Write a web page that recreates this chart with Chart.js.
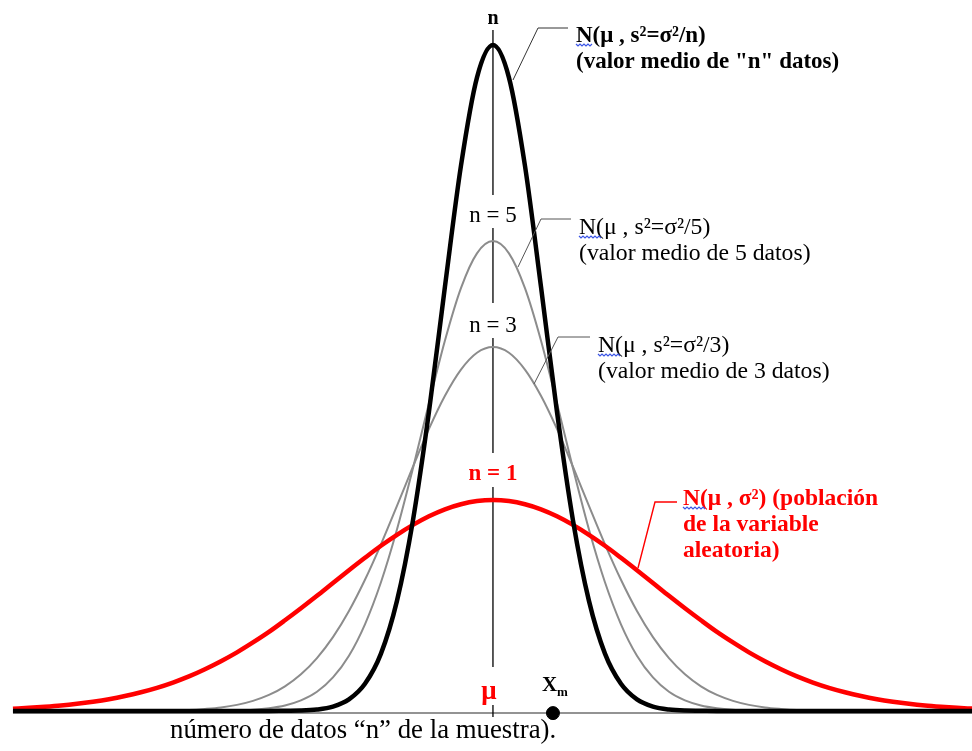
<!DOCTYPE html>
<html>
<head>
<meta charset="utf-8">
<script src="https://cdn.jsdelivr.net/npm/chart.js@4.4.1/dist/chart.umd.min.js"></script>
<style>
  body { margin: 0; background: #fff; }
  canvas { display: block; }
</style>
</head>
<body>
<canvas id="normalChart" width="972" height="751"></canvas>
<script>
// x in units of the population sigma, y relative to the n = 1 peak
const xs = [-3.0,-2.9,-2.8,-2.7,-2.6,-2.5,-2.4,-2.3,-2.2,-2.1,-2.0,-1.9,-1.8,-1.7,-1.6,-1.5,-1.4,-1.3,-1.2,-1.1,
  -1.0,-0.9,-0.8,-0.7,-0.6,-0.5,-0.4,-0.3,-0.2,-0.1,0,0.1,0.2,0.3,0.4,0.5,0.6,0.7,0.8,0.9,
  1.0,1.1,1.2,1.3,1.4,1.5,1.6,1.7,1.8,1.9,2.0,2.1,2.2,2.3,2.4,2.5,2.6,2.7,2.8,2.9,3.0];

const popValues = [0.011,0.015,0.020,0.026,0.034,0.044,0.056,0.071,0.089,0.110,0.135,0.164,0.198,0.236,0.278,
  0.325,0.375,0.430,0.487,0.546,0.607,0.667,0.726,0.783,0.835,0.882,0.923,0.956,0.980,0.995,1.000,
  0.995,0.980,0.956,0.923,0.882,0.835,0.783,0.726,0.667,0.607,0.546,0.487,0.430,0.375,0.325,
  0.278,0.236,0.198,0.164,0.135,0.110,0.089,0.071,0.056,0.044,0.034,0.026,0.020,0.015,0.011];

const n3Values = [0,0,0,0,0,0,0,0,0.001,0.002,0.003,0.005,0.010,0.017,0.029,0.048,0.076,0.117,0.174,0.251,
  0.350,0.474,0.622,0.790,0.972,1.158,1.337,1.494,1.618,1.698,1.725,
  1.698,1.618,1.494,1.337,1.158,0.972,0.790,0.622,0.474,0.350,0.251,0.174,0.117,0.076,0.048,
  0.029,0.017,0.010,0.005,0.003,0.002,0.001,0,0,0,0,0,0,0,0];

const n5Values = [0,0,0,0,0,0,0,0,0,0,0,0,0,0.001,0.003,0.006,0.013,0.026,0.050,0.091,
  0.159,0.262,0.411,0.610,0.860,1.150,1.459,1.756,2.004,2.169,2.227,
  2.169,2.004,1.756,1.459,1.150,0.860,0.610,0.411,0.262,0.159,0.091,0.050,0.026,0.013,0.006,
  0.003,0.001,0,0,0,0,0,0,0,0,0,0,0,0,0];

const nValues = [0,0,0,0,0,0,0,0,0,0,0,0,0,0,0,0,0,0.001,0.002,0.007,
  0.021,0.055,0.129,0.272,0.522,0.904,1.418,2.012,2.584,3.002,3.156,
  3.002,2.584,2.012,1.418,0.904,0.522,0.272,0.129,0.055,0.021,0.007,0.002,0.001,0,0,
  0,0,0,0,0,0,0,0,0,0,0,0,0,0,0];

const xmX = [0.375];
const xmY = [-0.01];

function toPoints(values) {
  return xs.map((x, i) => ({ x: x, y: values[i] }));
}

const serif = '"Liberation Serif", "Times New Roman", serif';

function squiggle(ctx, x0, x1, y) {
  ctx.save();
  ctx.strokeStyle = '#3b55e6';
  ctx.lineWidth = 1.2;
  ctx.beginPath();
  let up = true;
  ctx.moveTo(x0, y);
  for (let x = x0 + 2; x <= x1; x += 2) {
    ctx.lineTo(x, up ? y + 2 : y);
    up = !up;
  }
  ctx.stroke();
  ctx.restore();
}

function leader(ctx, pts, color, width) {
  ctx.save();
  ctx.strokeStyle = color;
  ctx.lineWidth = width;
  ctx.beginPath();
  ctx.moveTo(pts[0][0], pts[0][1]);
  for (let i = 1; i < pts.length; i++) ctx.lineTo(pts[i][0], pts[i][1]);
  ctx.stroke();
  ctx.restore();
}

function text(ctx, str, x, y, font, color, align) {
  ctx.font = font;
  ctx.fillStyle = color;
  ctx.textAlign = align || 'left';
  ctx.textBaseline = 'alphabetic';
  ctx.fillText(str, x, y);
}

const decorations = {
  id: 'decorations',
  beforeDatasetsDraw(chart) {
    const ctx = chart.ctx;
    const xScale = chart.scales.x;
    const yScale = chart.scales.y;
    const y0 = yScale.getPixelForValue(0) + 2;
    const xc = xScale.getPixelForValue(0);

    // horizontal axis
    ctx.save();
    ctx.strokeStyle = '#6f6f6f';
    ctx.lineWidth = 1.5;
    ctx.beginPath();
    ctx.moveTo(xScale.getPixelForValue(xs[0]), y0);
    ctx.lineTo(chart.width, y0);
    ctx.stroke();

    // vertical line at mu, broken where the labels sit
    ctx.strokeStyle = '#000';
    ctx.lineWidth = 1.3;
    [[30, 195], [228, 303], [338, 453], [487, 667], [705, 717]].forEach(s => {
      ctx.beginPath();
      ctx.moveTo(xc, s[0]);
      ctx.lineTo(xc, s[1]);
      ctx.stroke();
    });
    ctx.restore();
  },
  afterDraw(chart) {
    const ctx = chart.ctx;
    const xc = chart.scales.x.getPixelForValue(0);
    ctx.save();

    // callout lines
    leader(ctx, [[513, 80], [538, 28], [568, 28]], '#333', 1);
    leader(ctx, [[518, 267], [541, 219], [571, 219]], '#555', 1);
    leader(ctx, [[534, 384], [558, 337], [590, 337]], '#555', 1);
    leader(ctx, [[638, 568], [655, 502], [677, 502]], '#ff0000', 1.4);

    // curve labels on the centre line
    text(ctx, 'n', xc, 24, 'bold 20px ' + serif, '#000', 'center');
    text(ctx, 'n = 5', xc, 222, '23px ' + serif, '#000', 'center');
    text(ctx, 'n = 3', xc, 332, '23px ' + serif, '#000', 'center');
    text(ctx, 'n = 1', xc, 480, 'bold 23px ' + serif, '#ff0000', 'center');
    text(ctx, 'μ', xc - 4, 699, 'bold 27px ' + serif, '#ff0000', 'center');

    // X_m
    text(ctx, 'X', 542, 691, 'bold 21px ' + serif, '#000');
    text(ctx, 'm', 557, 696, 'bold 13px ' + serif, '#000');

    // callout texts
    text(ctx, 'N(μ , s²=σ²/n)', 576, 42, 'bold 23px ' + serif, '#000');
    text(ctx, '(valor medio de "n" datos)', 576, 68, 'bold 23px ' + serif, '#000');
    squiggle(ctx, 576, 592, 44);

    text(ctx, 'N(μ , s²=σ²/5)', 579, 234, '23.7px ' + serif, '#000');
    text(ctx, '(valor medio de 5 datos)', 579, 260, '23.7px ' + serif, '#000');
    squiggle(ctx, 579, 601, 236);

    text(ctx, 'N(μ , s²=σ²/3)', 598, 352, '23.7px ' + serif, '#000');
    text(ctx, '(valor medio de 3 datos)', 598, 378, '23.7px ' + serif, '#000');
    squiggle(ctx, 598, 620, 354);

    text(ctx, 'N(μ , σ²) (población', 683, 505, 'bold 23.5px ' + serif, '#ff0000');
    text(ctx, 'de la variable', 683, 531, 'bold 23.5px ' + serif, '#ff0000');
    text(ctx, 'aleatoria)', 683, 557, 'bold 23.5px ' + serif, '#ff0000');
    squiggle(ctx, 683, 705, 507);

    text(ctx, 'número de datos “n” de la muestra).', 170, 738, '26.8px ' + serif, '#000');
    ctx.restore();
  }
};

const ctx = document.getElementById('normalChart').getContext('2d');

new Chart(ctx, {
  type: 'line',
  data: {
    datasets: [
      {
        type: 'scatter',
        data: xmX.map((x, i) => ({ x: x, y: xmY[i] })),
        backgroundColor: '#000',
        borderColor: '#000',
        pointRadius: 6.5,
        showLine: false,
        clip: false
      },
      {
        data: toPoints(nValues),
        borderColor: '#000',
        borderWidth: 4.5,
        pointRadius: 0,
        cubicInterpolationMode: 'monotone',
        clip: false
      },
      {
        data: toPoints(popValues),
        borderColor: '#ff0000',
        borderWidth: 4.5,
        pointRadius: 0,
        cubicInterpolationMode: 'monotone',
        clip: false
      },
      {
        data: toPoints(n5Values),
        borderColor: '#8c8c8c',
        borderWidth: 2,
        pointRadius: 0,
        cubicInterpolationMode: 'monotone',
        clip: false
      },
      {
        data: toPoints(n3Values),
        borderColor: '#8c8c8c',
        borderWidth: 2,
        pointRadius: 0,
        cubicInterpolationMode: 'monotone',
        clip: false
      }
    ]
  },
  options: {
    responsive: false,
    animation: false,
    events: [],
    layout: { padding: 0, autoPadding: false },
    plugins: {
      legend: { display: false },
      tooltip: { enabled: false }
    },
    scales: {
      x: { type: 'linear', min: -3.081, max: 2.994, display: false },
      y: { type: 'linear', min: -0.1896, max: 3.3697, display: false }
    }
  },
  plugins: [decorations]
});
</script>
</body>
</html>
